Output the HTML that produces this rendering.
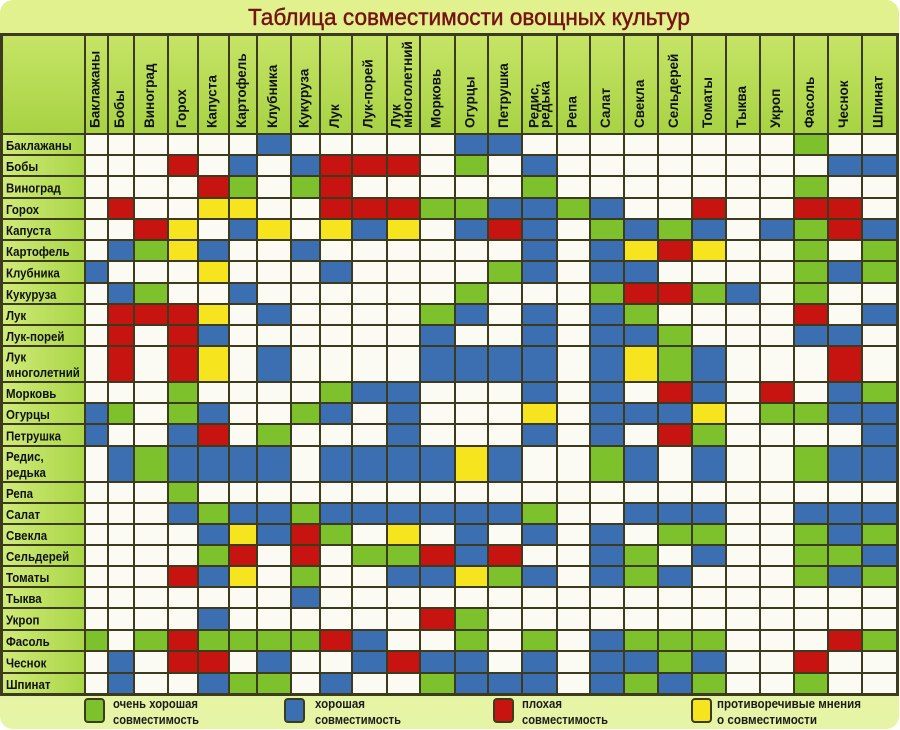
<!DOCTYPE html>
<html><head><meta charset="utf-8">
<style>
html,body{margin:0;padding:0;background:#fff;}
#wrap{position:relative;width:900px;height:730px;overflow:hidden;background:#fff;}
#bg{position:absolute;left:0;top:0;width:899px;height:729px;border-radius:13px;background:linear-gradient(#e0f18e,#dcee8a 40%,#e6f4a6);}
#t{position:absolute;left:0;top:33px;display:grid;
grid-template-columns:81px 21px 24px 32px 28px 29px 26px 32px 27px 30px 33px 31px 33px 31px 32px 33px 31px 32px 32px 32px 32px 32px 32px 32px 32px 33px;
grid-template-rows:97px 19px 19px 20px 19px 19px 19px 20px 19px 19px 19px 34px 19px 19px 20px 34px 19px 19px 19px 19px 19px 19px 20px 19px 20px 19px;
gap:2px;padding:3px;background:#3d3b1e;}
#t i{display:block}
.w{background:#fbfbf4}.g{background:#7dc22c}.b{background:#3b6fb2}.r{background:#c81410}.y{background:#f6e41e}
.l{background:linear-gradient(90deg,#d0ea78,#a9d647)}
.h{background:linear-gradient(#c6e466,#a7d343)}
svg{position:absolute;left:0;top:0;}
.hd{font:bold 13.5px "Liberation Sans","DejaVu Sans",sans-serif;fill:#111;}
.rl{font:bold 12.5px "Liberation Sans","DejaVu Sans",sans-serif;fill:#111;}
.lg{font:bold 12.5px "Liberation Sans","DejaVu Sans",sans-serif;fill:#1c1c1c;}
</style></head><body>
<div id="wrap">
<div id="bg"></div>
<div id="t">
<i class=h></i><i class=h></i><i class=h></i><i class=h></i><i class=h></i><i class=h></i><i class=h></i><i class=h></i><i class=h></i><i class=h></i><i class=h></i><i class=h></i><i class=h></i><i class=h></i><i class=h></i><i class=h></i><i class=h></i><i class=h></i><i class=h></i><i class=h></i><i class=h></i><i class=h></i><i class=h></i><i class=h></i><i class=h></i><i class=h></i>
<i class=l></i><i class=w></i><i class=w></i><i class=w></i><i class=w></i><i class=w></i><i class=w></i><i class=b></i><i class=w></i><i class=w></i><i class=w></i><i class=w></i><i class=w></i><i class=b></i><i class=b></i><i class=w></i><i class=w></i><i class=w></i><i class=w></i><i class=w></i><i class=w></i><i class=w></i><i class=w></i><i class=g></i><i class=w></i><i class=w></i>
<i class=l></i><i class=w></i><i class=w></i><i class=w></i><i class=r></i><i class=w></i><i class=b></i><i class=w></i><i class=b></i><i class=r></i><i class=r></i><i class=r></i><i class=w></i><i class=g></i><i class=w></i><i class=b></i><i class=w></i><i class=w></i><i class=w></i><i class=w></i><i class=w></i><i class=w></i><i class=w></i><i class=w></i><i class=b></i><i class=b></i>
<i class=l></i><i class=w></i><i class=w></i><i class=w></i><i class=w></i><i class=r></i><i class=g></i><i class=w></i><i class=g></i><i class=r></i><i class=w></i><i class=w></i><i class=w></i><i class=w></i><i class=w></i><i class=g></i><i class=w></i><i class=w></i><i class=w></i><i class=w></i><i class=w></i><i class=w></i><i class=w></i><i class=g></i><i class=w></i><i class=w></i>
<i class=l></i><i class=w></i><i class=r></i><i class=w></i><i class=w></i><i class=y></i><i class=y></i><i class=w></i><i class=w></i><i class=r></i><i class=r></i><i class=r></i><i class=g></i><i class=g></i><i class=b></i><i class=b></i><i class=g></i><i class=b></i><i class=w></i><i class=w></i><i class=r></i><i class=w></i><i class=w></i><i class=r></i><i class=r></i><i class=w></i>
<i class=l></i><i class=w></i><i class=w></i><i class=r></i><i class=y></i><i class=w></i><i class=b></i><i class=y></i><i class=w></i><i class=y></i><i class=b></i><i class=y></i><i class=w></i><i class=b></i><i class=r></i><i class=b></i><i class=w></i><i class=g></i><i class=b></i><i class=g></i><i class=b></i><i class=w></i><i class=b></i><i class=g></i><i class=r></i><i class=b></i>
<i class=l></i><i class=w></i><i class=b></i><i class=g></i><i class=y></i><i class=b></i><i class=w></i><i class=w></i><i class=b></i><i class=w></i><i class=w></i><i class=w></i><i class=w></i><i class=w></i><i class=w></i><i class=b></i><i class=w></i><i class=b></i><i class=y></i><i class=r></i><i class=y></i><i class=w></i><i class=w></i><i class=g></i><i class=w></i><i class=g></i>
<i class=l></i><i class=b></i><i class=w></i><i class=w></i><i class=w></i><i class=y></i><i class=w></i><i class=w></i><i class=w></i><i class=b></i><i class=w></i><i class=w></i><i class=w></i><i class=w></i><i class=g></i><i class=b></i><i class=w></i><i class=b></i><i class=b></i><i class=w></i><i class=w></i><i class=w></i><i class=w></i><i class=g></i><i class=b></i><i class=g></i>
<i class=l></i><i class=w></i><i class=b></i><i class=g></i><i class=w></i><i class=w></i><i class=b></i><i class=w></i><i class=w></i><i class=w></i><i class=w></i><i class=w></i><i class=w></i><i class=g></i><i class=w></i><i class=w></i><i class=w></i><i class=g></i><i class=r></i><i class=r></i><i class=g></i><i class=b></i><i class=w></i><i class=g></i><i class=w></i><i class=w></i>
<i class=l></i><i class=w></i><i class=r></i><i class=r></i><i class=r></i><i class=y></i><i class=w></i><i class=b></i><i class=w></i><i class=w></i><i class=w></i><i class=w></i><i class=g></i><i class=b></i><i class=w></i><i class=b></i><i class=w></i><i class=b></i><i class=g></i><i class=w></i><i class=w></i><i class=w></i><i class=w></i><i class=r></i><i class=w></i><i class=b></i>
<i class=l></i><i class=w></i><i class=r></i><i class=w></i><i class=r></i><i class=b></i><i class=w></i><i class=w></i><i class=w></i><i class=w></i><i class=w></i><i class=w></i><i class=b></i><i class=w></i><i class=w></i><i class=b></i><i class=w></i><i class=b></i><i class=b></i><i class=g></i><i class=w></i><i class=w></i><i class=w></i><i class=b></i><i class=b></i><i class=w></i>
<i class=l></i><i class=w></i><i class=r></i><i class=w></i><i class=r></i><i class=y></i><i class=w></i><i class=b></i><i class=w></i><i class=w></i><i class=w></i><i class=w></i><i class=b></i><i class=b></i><i class=b></i><i class=b></i><i class=w></i><i class=b></i><i class=y></i><i class=g></i><i class=b></i><i class=w></i><i class=w></i><i class=w></i><i class=r></i><i class=w></i>
<i class=l></i><i class=w></i><i class=w></i><i class=w></i><i class=g></i><i class=w></i><i class=w></i><i class=w></i><i class=w></i><i class=g></i><i class=b></i><i class=b></i><i class=w></i><i class=w></i><i class=w></i><i class=b></i><i class=w></i><i class=b></i><i class=w></i><i class=r></i><i class=b></i><i class=w></i><i class=r></i><i class=w></i><i class=b></i><i class=g></i>
<i class=l></i><i class=b></i><i class=g></i><i class=w></i><i class=g></i><i class=b></i><i class=w></i><i class=w></i><i class=g></i><i class=b></i><i class=w></i><i class=b></i><i class=w></i><i class=w></i><i class=w></i><i class=y></i><i class=w></i><i class=b></i><i class=b></i><i class=b></i><i class=y></i><i class=w></i><i class=g></i><i class=g></i><i class=b></i><i class=b></i>
<i class=l></i><i class=b></i><i class=w></i><i class=w></i><i class=b></i><i class=r></i><i class=w></i><i class=g></i><i class=w></i><i class=w></i><i class=w></i><i class=b></i><i class=w></i><i class=w></i><i class=w></i><i class=b></i><i class=w></i><i class=b></i><i class=w></i><i class=r></i><i class=g></i><i class=w></i><i class=w></i><i class=w></i><i class=w></i><i class=b></i>
<i class=l></i><i class=w></i><i class=b></i><i class=g></i><i class=b></i><i class=b></i><i class=b></i><i class=b></i><i class=w></i><i class=b></i><i class=b></i><i class=b></i><i class=b></i><i class=y></i><i class=b></i><i class=w></i><i class=w></i><i class=g></i><i class=b></i><i class=w></i><i class=b></i><i class=w></i><i class=w></i><i class=g></i><i class=b></i><i class=b></i>
<i class=l></i><i class=w></i><i class=w></i><i class=w></i><i class=g></i><i class=w></i><i class=w></i><i class=w></i><i class=w></i><i class=w></i><i class=w></i><i class=w></i><i class=w></i><i class=w></i><i class=w></i><i class=w></i><i class=w></i><i class=w></i><i class=w></i><i class=w></i><i class=w></i><i class=w></i><i class=w></i><i class=w></i><i class=w></i><i class=w></i>
<i class=l></i><i class=w></i><i class=w></i><i class=w></i><i class=b></i><i class=g></i><i class=b></i><i class=b></i><i class=g></i><i class=b></i><i class=b></i><i class=b></i><i class=b></i><i class=b></i><i class=b></i><i class=g></i><i class=w></i><i class=w></i><i class=b></i><i class=b></i><i class=b></i><i class=w></i><i class=w></i><i class=b></i><i class=b></i><i class=b></i>
<i class=l></i><i class=w></i><i class=w></i><i class=w></i><i class=w></i><i class=b></i><i class=y></i><i class=b></i><i class=r></i><i class=g></i><i class=w></i><i class=y></i><i class=w></i><i class=b></i><i class=w></i><i class=b></i><i class=w></i><i class=b></i><i class=w></i><i class=g></i><i class=g></i><i class=w></i><i class=w></i><i class=g></i><i class=b></i><i class=g></i>
<i class=l></i><i class=w></i><i class=w></i><i class=w></i><i class=w></i><i class=g></i><i class=r></i><i class=w></i><i class=r></i><i class=w></i><i class=g></i><i class=g></i><i class=r></i><i class=b></i><i class=r></i><i class=w></i><i class=w></i><i class=b></i><i class=g></i><i class=w></i><i class=b></i><i class=w></i><i class=w></i><i class=g></i><i class=g></i><i class=b></i>
<i class=l></i><i class=w></i><i class=w></i><i class=w></i><i class=r></i><i class=b></i><i class=y></i><i class=w></i><i class=g></i><i class=w></i><i class=w></i><i class=b></i><i class=b></i><i class=y></i><i class=g></i><i class=b></i><i class=w></i><i class=b></i><i class=g></i><i class=b></i><i class=w></i><i class=w></i><i class=w></i><i class=g></i><i class=b></i><i class=g></i>
<i class=l></i><i class=w></i><i class=w></i><i class=w></i><i class=w></i><i class=w></i><i class=w></i><i class=w></i><i class=b></i><i class=w></i><i class=w></i><i class=w></i><i class=w></i><i class=w></i><i class=w></i><i class=w></i><i class=w></i><i class=w></i><i class=w></i><i class=w></i><i class=w></i><i class=w></i><i class=w></i><i class=w></i><i class=w></i><i class=w></i>
<i class=l></i><i class=w></i><i class=w></i><i class=w></i><i class=w></i><i class=b></i><i class=w></i><i class=w></i><i class=w></i><i class=w></i><i class=w></i><i class=w></i><i class=r></i><i class=g></i><i class=w></i><i class=w></i><i class=w></i><i class=w></i><i class=w></i><i class=w></i><i class=w></i><i class=w></i><i class=w></i><i class=w></i><i class=w></i><i class=w></i>
<i class=l></i><i class=g></i><i class=w></i><i class=g></i><i class=r></i><i class=g></i><i class=g></i><i class=g></i><i class=g></i><i class=r></i><i class=b></i><i class=w></i><i class=w></i><i class=g></i><i class=w></i><i class=g></i><i class=w></i><i class=b></i><i class=g></i><i class=g></i><i class=g></i><i class=w></i><i class=w></i><i class=w></i><i class=r></i><i class=g></i>
<i class=l></i><i class=w></i><i class=b></i><i class=w></i><i class=r></i><i class=r></i><i class=w></i><i class=b></i><i class=w></i><i class=w></i><i class=b></i><i class=r></i><i class=b></i><i class=b></i><i class=w></i><i class=b></i><i class=w></i><i class=b></i><i class=b></i><i class=g></i><i class=b></i><i class=w></i><i class=w></i><i class=r></i><i class=w></i><i class=w></i>
<i class=l></i><i class=w></i><i class=b></i><i class=w></i><i class=w></i><i class=b></i><i class=g></i><i class=g></i><i class=w></i><i class=b></i><i class=w></i><i class=w></i><i class=g></i><i class=b></i><i class=b></i><i class=b></i><i class=w></i><i class=b></i><i class=g></i><i class=b></i><i class=g></i><i class=w></i><i class=w></i><i class=g></i><i class=w></i><i class=w></i>
</div>
<svg width="900" height="730" viewBox="0 0 900 730" xmlns="http://www.w3.org/2000/svg">
<text x="248" y="25" textLength="442" lengthAdjust="spacingAndGlyphs" style="font:23.5px 'Liberation Sans','DejaVu Sans',sans-serif;fill:#751212;stroke:#751212;stroke-width:0.45px;">Таблица совместимости овощных культур</text>
<g class="hd">
<text transform="translate(99.5,128) rotate(-90)">Баклажаны</text>
<text transform="translate(124,128) rotate(-90)">Бобы</text>
<text transform="translate(154,128) rotate(-90)">Виноград</text>
<text transform="translate(186,128) rotate(-90)">Горох</text>
<text transform="translate(216.5,128) rotate(-90)">Капуста</text>
<text transform="translate(246,128) rotate(-90)">Картофель</text>
<text transform="translate(277,128) rotate(-90)">Клубника</text>
<text transform="translate(308.5,128) rotate(-90)">Кукуруза</text>
<text transform="translate(339,128) rotate(-90)">Лук</text>
<text transform="translate(372.5,128) rotate(-90)">Лук-порей</text>
<text transform="translate(400.5,128) rotate(-90)">Лук</text>
<text transform="translate(412,128) rotate(-90)">многолетний</text>
<text transform="translate(440.5,128) rotate(-90)">Морковь</text>
<text transform="translate(474.5,128) rotate(-90)">Огурцы</text>
<text transform="translate(508,128) rotate(-90)">Петрушка</text>
<text transform="translate(538.5,128) rotate(-90)">Редис,</text>
<text transform="translate(549.5,128) rotate(-90)">редька</text>
<text transform="translate(576.5,128) rotate(-90)">Репа</text>
<text transform="translate(610,128) rotate(-90)">Салат</text>
<text transform="translate(644,128) rotate(-90)">Свекла</text>
<text transform="translate(678,128) rotate(-90)">Сельдерей</text>
<text transform="translate(712,128) rotate(-90)">Томаты</text>
<text transform="translate(746,128) rotate(-90)">Тыква</text>
<text transform="translate(780,128) rotate(-90)">Укроп</text>
<text transform="translate(814,128) rotate(-90)">Фасоль</text>
<text transform="translate(848,128) rotate(-90)">Чеснок</text>
<text transform="translate(882.5,128) rotate(-90)">Шпинат</text>
</g>
<g class="rl" transform="scale(0.92,1)">
<text x="6.5" y="150">Баклажаны</text>
<text x="6.5" y="171">Бобы</text>
<text x="6.5" y="192.5">Виноград</text>
<text x="6.5" y="214">Горох</text>
<text x="6.5" y="235">Капуста</text>
<text x="6.5" y="256">Картофель</text>
<text x="6.5" y="277.5">Клубника</text>
<text x="6.5" y="299">Кукуруза</text>
<text x="6.5" y="320">Лук</text>
<text x="6.5" y="341">Лук-порей</text>
<text x="6.5" y="361.5">Лук</text>
<text x="6.5" y="377">многолетний</text>
<text x="6.5" y="398">Морковь</text>
<text x="6.5" y="419">Огурцы</text>
<text x="6.5" y="440.5">Петрушка</text>
<text x="6.5" y="461">Редис,</text>
<text x="6.5" y="477">редька</text>
<text x="6.5" y="498">Репа</text>
<text x="6.5" y="519">Салат</text>
<text x="6.5" y="540">Свекла</text>
<text x="6.5" y="561">Сельдерей</text>
<text x="6.5" y="582">Томаты</text>
<text x="6.5" y="603">Тыква</text>
<text x="6.5" y="624.5">Укроп</text>
<text x="6.5" y="646">Фасоль</text>
<text x="6.5" y="667.5">Чеснок</text>
<text x="6.5" y="689">Шпинат</text>
</g>
<g stroke="#3d3b1e" stroke-width="2">
<rect x="85" y="699" width="19" height="23" rx="3" fill="#7dc22c"/>
<rect x="285" y="699" width="19" height="23" rx="3" fill="#3b6fb2"/>
<rect x="494" y="699" width="19" height="23" rx="3" fill="#c81410"/>
<rect x="692" y="699" width="19" height="23" rx="3" fill="#f6e41e"/>
</g>
<g class="lg">
<text x="113" y="708" textLength="85" lengthAdjust="spacingAndGlyphs">очень хорошая</text>
<text x="113" y="724" textLength="86" lengthAdjust="spacingAndGlyphs">совместимость</text>
<text x="315" y="708" textLength="50" lengthAdjust="spacingAndGlyphs">хорошая</text>
<text x="315" y="724" textLength="86" lengthAdjust="spacingAndGlyphs">совместимость</text>
<text x="522" y="708" textLength="40" lengthAdjust="spacingAndGlyphs">плохая</text>
<text x="522" y="724" textLength="86" lengthAdjust="spacingAndGlyphs">совместимость</text>
<text x="717" y="708" textLength="144" lengthAdjust="spacingAndGlyphs">противоречивые мнения</text>
<text x="717" y="724" textLength="100" lengthAdjust="spacingAndGlyphs">о совместимости</text>
</g>
</svg>
</div>
</body></html>
